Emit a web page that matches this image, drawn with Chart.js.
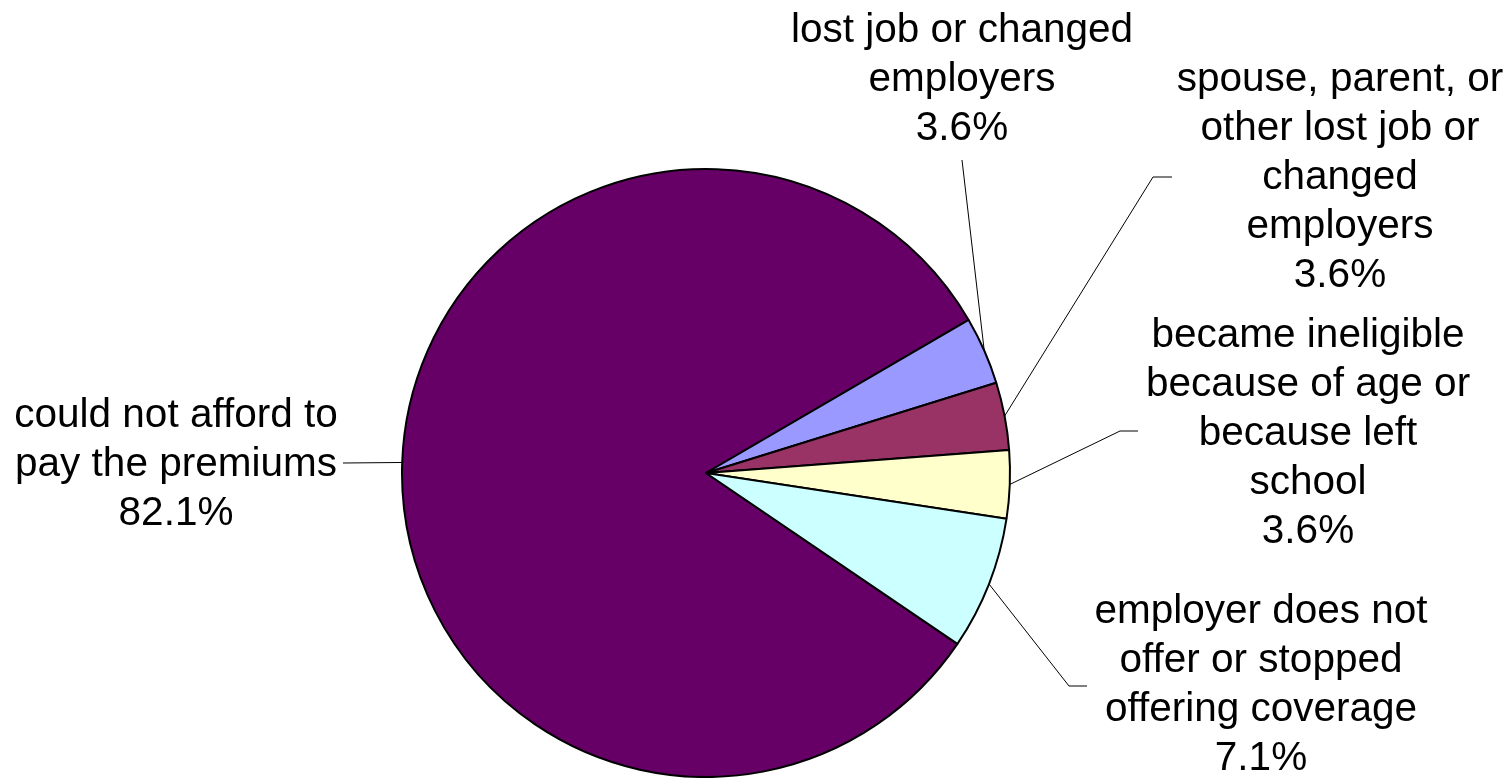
<!DOCTYPE html>
<html>
<head>
    <title>Reasons for Losing Coverage</title>
    <script src="https://cdn.jsdelivr.net/npm/chart.js"></script>
    <style>
        body { margin: 0; background: #fff; }
        canvas { display: block; }
    </style>
</head>
<body>
    <canvas id="reasons-chart" width="1511" height="778"></canvas>

    <script>
        // Reasons and their shares (percent)
        const reasons = [
            ['could not afford to', 'pay the premiums'],
            ['lost job or changed', 'employers'],
            ['spouse, parent, or', 'other lost job or', 'changed', 'employers'],
            ['became ineligible', 'because of age or', 'because left', 'school'],
            ['employer does not', 'offer or stopped', 'offering coverage']
        ];
        const shares = [82.1, 3.6, 3.6, 3.6, 7.1];
        const sliceColors = ['#660066', '#9999FF', '#993366', '#FFFFCC', '#CCFFFF'];

        // Where each label block sits: centre x, first baseline, and the
        // elbow of its leader line (the line then runs to the slice edge)
        const labelPlacement = [
            { x: 176,  y: 427, line: [[343, 463]] },
            { x: 962,  y: 42,  line: [[962, 160]] },
            { x: 1340, y: 91,  line: [[1172, 177], [1153, 177]] },
            { x: 1308, y: 347, line: [[1138, 431], [1120, 431]] },
            { x: 1261, y: 623, line: [[1087, 686], [1069, 686]] }
        ];
        const lineHeight = 49;

        const calloutLabels = {
            id: 'calloutLabels',
            afterDraw(chart) {
                const ctx = chart.ctx;
                const arcs = chart.getDatasetMeta(0).data;
                ctx.save();
                arcs.forEach((arc, i) => {
                    const p = labelPlacement[i];
                    const mid = (arc.startAngle + arc.endAngle) / 2;
                    const ex = arc.x + Math.cos(mid) * arc.outerRadius;
                    const ey = arc.y + Math.sin(mid) * arc.outerRadius;

                    // leader line
                    ctx.strokeStyle = '#000';
                    ctx.lineWidth = 1;
                    ctx.beginPath();
                    ctx.moveTo(p.line[0][0], p.line[0][1]);
                    for (let k = 1; k < p.line.length; k++) ctx.lineTo(p.line[k][0], p.line[k][1]);
                    ctx.lineTo(ex, ey);
                    ctx.stroke();

                    // label text + percentage
                    const lines = chart.data.labels[i].concat([shares[i].toFixed(1) + '%']);
                    ctx.fillStyle = '#000';
                    ctx.font = '40.5px "Liberation Sans", Arial, sans-serif';
                    ctx.textAlign = 'center';
                    ctx.textBaseline = 'alphabetic';
                    lines.forEach((t, j) => ctx.fillText(t, p.x, p.y + j * lineHeight));
                });
                ctx.restore();
            }
        };

        const ctx = document.getElementById('reasons-chart').getContext('2d');
        new Chart(ctx, {
            type: 'pie',
            data: {
                labels: reasons,
                datasets: [{
                    data: shares,
                    backgroundColor: sliceColors,
                    borderColor: '#000',
                    borderWidth: 2
                }]
            },
            options: {
                responsive: false,
                animation: false,
                rotation: 124.2,
                layout: {
                    padding: { top: 168, bottom: 0, left: 401, right: 500 }
                },
                plugins: {
                    legend: { display: false },
                    tooltip: { enabled: false }
                }
            },
            plugins: [calloutLabels]
        });
    </script>
</body>
</html>
